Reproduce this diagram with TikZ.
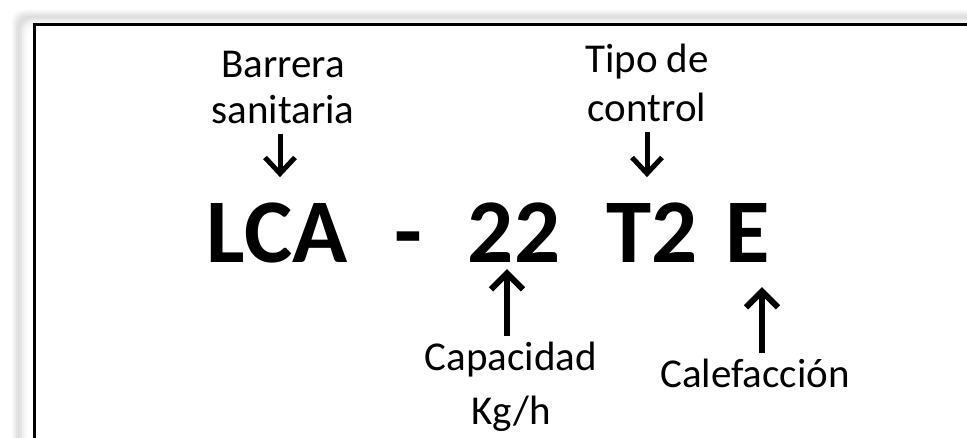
\documentclass[tikz,border=0pt]{standalone}
\usepackage{fontspec}
\setmainfont{Carlito}
\usetikzlibrary{arrows.meta,positioning}

\tikzset{
  tag/.style={inner sep=0pt, align=center, font=\fontsize{41}{46}\selectfont},
  code/.style={inner sep=0pt, anchor=base, font=\fontsize{91}{94}\selectfont\bfseries},
  thinarr/.style={line width=5pt, -{Straight Barb[length=16pt,width=30pt]}},
  thickarr/.style={line width=6pt, -{Straight Barb[length=16pt,width=32pt]}}
}

\begin{document}
\begin{tikzpicture}[x=1pt,y=-1pt]
  \useasboundingbox (0,0) rectangle (967,437);
  \clip (0,0) rectangle (967,437);

  % soft shadow round the frame
  \foreach \d/\c in {0/3,2/7,4/11,6/13,8/10,10/6,12/3,14/1,16/0}
    \fill [black!\c, rounded corners=12pt] (12+\d,10+\d) rectangle (1000,470);
  \draw [line width=2.2pt] (34.5,470) |- (1000,24.5);

  % the code
  \node [code] (lca) at (277,262) {LCA};
  \node [code] (dash) at (408,262) {-};
  \node [code] (cap) at (514,262) {22};
  \node [code] (ctl) at (652,262) {T2};
  \node [code] (heat) at (748,262) {E};

  % the labels (base = last line)
  \node [tag, anchor=base] (barrera) at (283,123) {Barrera\\sanitaria};
  \node [tag, anchor=base] (tipo) at (647,121) {Tipo de\\[3pt]control};
  \node [tag, anchor=base] (capacidad) at (511,424) {Capacidad\\[8pt]Kg/h};
  \node [tag, anchor=base] (calef) at (755,387) {Calefacción};

  \draw [thinarr, shorten <=10pt, shorten >=25pt] ([xshift=-3pt]barrera.south) -- ([xshift=-3pt]barrera.south |- lca.north);
  \draw [thinarr, shorten <=10pt, shorten >=25pt] (tipo.south) -- (tipo.south |- ctl.north);
  \draw [thickarr, shorten <=5pt, shorten >=7pt] ([xshift=-4pt]capacidad.north) -- ([xshift=-4pt]capacidad.north |- cap.south);
  \draw [thickarr, shorten <=5pt, shorten >=25pt] ([xshift=7pt]calef.north) -- ([xshift=7pt]calef.north |- heat.south);
\end{tikzpicture}
\end{document}
